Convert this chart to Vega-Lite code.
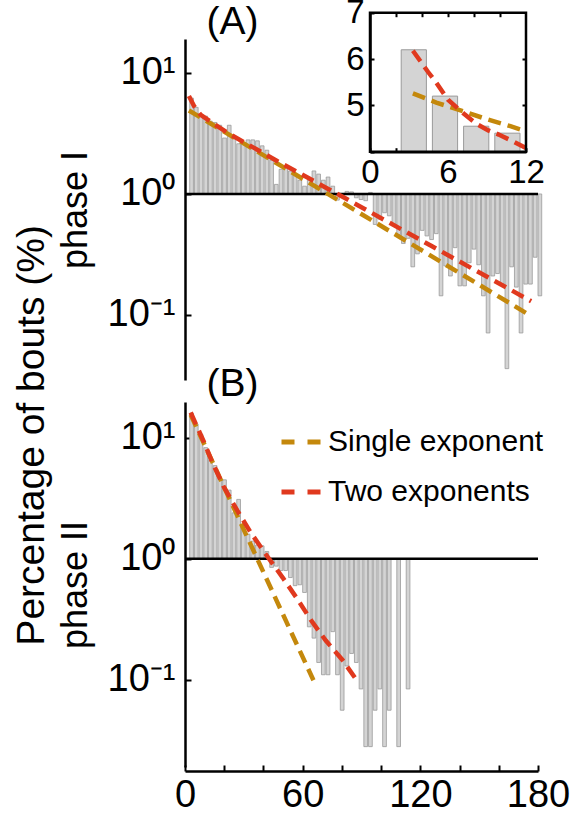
{
  "$schema": "https://vega.github.io/schema/vega-lite/v6.json",
  "background": "white",
  "padding": {"left": 13, "top": -4, "right": 0, "bottom": 0},
  "bounds": "flush",
  "spacing": 22,
  "title": {"text": "Percentage of bouts (%)", "orient": "left", "anchor": "middle", "fontSize": 39, "fontWeight": "normal", "font": "Liberation Sans", "color": "black", "offset": 5, "dx": -30},
  "datasets": {
    "A_bars": [
      {"t0":2.4,"t1":4.8,"p":6.2},{"t0":4.8,"t1":7.2,"p":5.2},{"t0":7.2,"t1":9.6,"p":4.55},{"t0":9.6,"t1":12,"p":4.4},{"t0":12,"t1":14.4,"p":4.0},{"t0":14.4,"t1":16.8,"p":3.9},{"t0":16.8,"t1":19.2,"p":3.7},{"t0":19.2,"t1":21.6,"p":2.9},{"t0":21.6,"t1":24,"p":3.7},{"t0":24,"t1":26.4,"p":3.0},{"t0":26.4,"t1":28.8,"p":2.6},{"t0":28.8,"t1":31.2,"p":2.6},{"t0":31.2,"t1":33.6,"p":2.8},{"t0":33.6,"t1":36,"p":2.8},{"t0":36,"t1":38.4,"p":2.75},{"t0":38.4,"t1":40.8,"p":2.5},{"t0":40.8,"t1":43.2,"p":2.3},{"t0":43.2,"t1":45.6,"p":1.9},{"t0":45.6,"t1":48,"p":1.2},{"t0":48,"t1":50.4,"p":1.6},{"t0":50.4,"t1":52.8,"p":1.65},{"t0":52.8,"t1":55.2,"p":1.55},{"t0":55.2,"t1":57.6,"p":1.45},{"t0":57.6,"t1":60,"p":1.3},{"t0":60,"t1":62.4,"p":1.16},{"t0":62.4,"t1":64.8,"p":1.3},{"t0":64.8,"t1":67.2,"p":1.55},{"t0":67.2,"t1":69.6,"p":1.46},{"t0":69.6,"t1":72,"p":1.3},{"t0":72,"t1":74.4,"p":1.38},{"t0":74.4,"t1":76.8,"p":1.16},{"t0":76.8,"t1":79.2,"p":0.89},{"t0":79.2,"t1":81.6,"p":0.95},{"t0":81.6,"t1":84,"p":1.05},{"t0":84,"t1":86.4,"p":1.04},{"t0":86.4,"t1":88.8,"p":0.93},{"t0":88.8,"t1":91.2,"p":0.9},{"t0":91.2,"t1":93.6,"p":0.88},{"t0":93.6,"t1":96,"p":1.03},{"t0":96,"t1":98.4,"p":0.56},{"t0":98.4,"t1":100.8,"p":0.62},{"t0":100.8,"t1":103.2,"p":0.7},{"t0":103.2,"t1":105.6,"p":0.66},{"t0":105.6,"t1":108,"p":0.55},{"t0":108,"t1":110.4,"p":0.46},{"t0":110.4,"t1":112.8,"p":0.39},{"t0":112.8,"t1":115.2,"p":0.43},{"t0":115.2,"t1":117.6,"p":0.25},{"t0":117.6,"t1":120,"p":0.32},{"t0":120,"t1":122.4,"p":0.5},{"t0":122.4,"t1":124.8,"p":0.45},{"t0":124.8,"t1":127.2,"p":0.42},{"t0":127.2,"t1":129.6,"p":0.47},{"t0":129.6,"t1":132,"p":0.144},{"t0":132,"t1":134.4,"p":0.254},{"t0":134.4,"t1":136.8,"p":0.21},{"t0":136.8,"t1":139.2,"p":0.36},{"t0":139.2,"t1":141.6,"p":0.174},{"t0":141.6,"t1":144,"p":0.174},{"t0":144,"t1":146.4,"p":0.27},{"t0":146.4,"t1":148.8,"p":0.35},{"t0":148.8,"t1":151.2,"p":0.26},{"t0":151.2,"t1":153.6,"p":0.144},{"t0":153.6,"t1":156,"p":0.071},{"t0":156,"t1":158.4,"p":0.21},{"t0":158.4,"t1":160.8,"p":0.22},{"t0":160.8,"t1":163.2,"p":0.18},{"t0":163.2,"t1":165.6,"p":0.036},{"t0":165.6,"t1":168,"p":0.25},{"t0":168,"t1":170.4,"p":0.17},{"t0":170.4,"t1":172.8,"p":0.071},{"t0":172.8,"t1":175.2,"p":0.18},{"t0":175.2,"t1":177.6,"p":0.18},{"t0":177.6,"t1":180,"p":0.3},{"t0":180,"t1":182.4,"p":0.144}
    ],
    "A_fits": [
      {"model":"Single exponent","t":2,"p":4.9},{"model":"Single exponent","t":176.5,"p":0.098},
      {"model":"Two exponents","t":2,"p":6.45},{"model":"Two exponents","t":4.6,"p":5.33},{"model":"Two exponents","t":8,"p":4.5},{"model":"Two exponents","t":13.9,"p":3.88},{"model":"Two exponents","t":22.4,"p":3.15},{"model":"Two exponents","t":46.3,"p":1.9},{"model":"Two exponents","t":81.3,"p":0.93},{"model":"Two exponents","t":125.5,"p":0.373},{"model":"Two exponents","t":176.5,"p":0.13}
    ],
    "inset_bars": [
      {"t0":2.4,"t1":4.8,"p":6.2},{"t0":4.8,"t1":7.2,"p":5.2},{"t0":7.2,"t1":9.6,"p":4.55},{"t0":9.6,"t1":12,"p":4.4}
    ],
    "inset_fits": [
      {"model":"Single exponent","t":3.3,"p":5.26},{"model":"Single exponent","t":5.1,"p":5.06},{"model":"Single exponent","t":7.2,"p":4.87},{"model":"Single exponent","t":9.0,"p":4.7},{"model":"Single exponent","t":10.8,"p":4.55},{"model":"Single exponent","t":11.8,"p":4.46},
      {"model":"Two exponents","t":3.3,"p":6.18},{"model":"Two exponents","t":4.47,"p":5.72},{"model":"Two exponents","t":5.1,"p":5.49},{"model":"Two exponents","t":6.0,"p":5.12},{"model":"Two exponents","t":7.3,"p":4.8},{"model":"Two exponents","t":8.2,"p":4.6},{"model":"Two exponents","t":9.1,"p":4.46},{"model":"Two exponents","t":9.9,"p":4.37},{"model":"Two exponents","t":11.1,"p":4.21},{"model":"Two exponents","t":12.0,"p":4.08}
    ],
    "B_bars": [
      {"t0":2.4,"t1":4.8,"p":16},{"t0":4.8,"t1":7.2,"p":13},{"t0":7.2,"t1":9.6,"p":10.7},{"t0":9.6,"t1":12,"p":8.3},{"t0":12,"t1":14.4,"p":6.6},{"t0":14.4,"t1":16.8,"p":5.9},{"t0":16.8,"t1":19.2,"p":4.6},{"t0":19.2,"t1":21.6,"p":4.5},{"t0":21.6,"t1":24,"p":3.7},{"t0":24,"t1":26.4,"p":2.4},{"t0":26.4,"t1":28.8,"p":3.1},{"t0":28.8,"t1":31.2,"p":1.75},{"t0":31.2,"t1":33.6,"p":1.6},{"t0":33.6,"t1":36,"p":1.4},{"t0":36,"t1":38.4,"p":1.3},{"t0":38.4,"t1":40.8,"p":1.28},{"t0":40.8,"t1":43.2,"p":1.15},{"t0":43.2,"t1":45.6,"p":0.85},{"t0":45.6,"t1":48,"p":0.87},{"t0":48,"t1":50.4,"p":0.8},{"t0":50.4,"t1":52.8,"p":0.8},{"t0":52.8,"t1":55.2,"p":0.7},{"t0":55.2,"t1":57.6,"p":0.6},{"t0":57.6,"t1":60,"p":0.61},{"t0":60,"t1":62.4,"p":0.527},{"t0":62.4,"t1":64.8,"p":0.274},{"t0":64.8,"t1":67.2,"p":0.221},{"t0":67.2,"t1":69.6,"p":0.139},{"t0":69.6,"t1":72,"p":0.11},{"t0":72,"t1":74.4,"p":0.11},{"t0":74.4,"t1":76.8,"p":0.25},{"t0":76.8,"t1":79.2,"p":0.11},{"t0":79.2,"t1":81.6,"p":0.056},{"t0":81.6,"t1":84,"p":0.13},{"t0":84,"t1":86.4,"p":0.165},{"t0":86.4,"t1":88.8,"p":0.139},{"t0":88.8,"t1":91.2,"p":0.084},{"t0":91.2,"t1":93.6,"p":0.028},{"t0":93.6,"t1":96,"p":0.028},{"t0":96,"t1":98.4,"p":0.056},{"t0":98.4,"t1":100.8,"p":0.084},{"t0":100.8,"t1":103.2,"p":0.028},{"t0":103.2,"t1":105.6,"p":0.056},{"t0":108,"t1":110.4,"p":0.028},{"t0":112.8,"t1":115.2,"p":0.084}
    ],
    "B_fits": [
      {"model":"Single exponent","t":2.9,"p":15.5},{"model":"Single exponent","t":65.5,"p":0.099},
      {"model":"Two exponents","t":2.9,"p":16.2},{"model":"Two exponents","t":9.7,"p":9.2},{"model":"Two exponents","t":13.9,"p":6.3},{"model":"Two exponents","t":19.9,"p":3.9},{"model":"Two exponents","t":26.7,"p":2.5},{"model":"Two exponents","t":33.5,"p":1.65},{"model":"Two exponents","t":41,"p":1.1},{"model":"Two exponents","t":49.8,"p":0.7},{"model":"Two exponents","t":57.5,"p":0.46},{"model":"Two exponents","t":64.3,"p":0.31},{"model":"Two exponents","t":71.9,"p":0.21},{"model":"Two exponents","t":80.4,"p":0.145},{"model":"Two exponents","t":87.2,"p":0.101}
    ]
  },
  "vconcat": [
    {
      "width": 353,
      "height": 341,
      "layer": [
        {
          "layer": [
            {
              "data": {"name": "A_bars"},
              "mark": {"type": "bar", "fill": "#d4d4d4", "stroke": "#9a9a9a", "strokeWidth": 0.8, "x2Offset": -1},
              "encoding": {
                "x": {"field": "t0", "type": "quantitative", "scale": {"domain": [0, 180], "nice": false, "zero": false}, "axis": null},
                "x2": {"field": "t1"},
                "y": {"field": "p", "type": "quantitative", "scale": {"type": "log", "domain": [0.029, 19.1], "nice": false},
                  "axis": {"title": "phase I", "titleFontSize": 36, "titlePadding": 13, "values": [0.1, 1, 10], "labelExpr": "datum.value == 10 ? '10¹' : datum.value == 1 ? '10⁰' : '10⁻¹'", "labelFontSize": 38, "tickSize": -6, "labelPadding": 16, "labelOverlap": false, "tickCount": 10}},
                "y2": {"datum": 1}
              }
            },
            {
              "data": {"values": [{}]},
              "mark": {"type": "rule", "color": "black", "strokeWidth": 2.5},
              "encoding": {"y": {"datum": 1, "type": "quantitative", "scale": {"type": "log", "domain": [0.029, 19.1], "nice": false}}}
            },
            {
              "data": {"name": "A_fits"},
              "mark": {"type": "line", "strokeDash": [13, 7], "strokeWidth": 4.5, "strokeCap": "butt"},
              "encoding": {
                "x": {"field": "t", "type": "quantitative", "scale": {"domain": [0, 180], "nice": false, "zero": false}, "axis": null},
                "y": {"field": "p", "type": "quantitative", "scale": {"type": "log", "domain": [0.029, 19.1], "nice": false}},
                "color": {"field": "model", "type": "nominal", "scale": {"domain": ["Single exponent", "Two exponents"], "range": ["#c4880c", "#e0391e"]}, "legend": null}
              }
            },
            {
              "data": {"values": [{"label": "(A)", "t": 11.0, "p": 26.4}]},
              "mark": {"type": "text", "align": "left", "baseline": "middle", "fontSize": 39},
              "encoding": {
                "x": {"field": "t", "type": "quantitative", "scale": {"domain": [0, 180], "nice": false, "zero": false}, "axis": null},
                "y": {"field": "p", "type": "quantitative", "scale": {"type": "log", "domain": [0.029, 19.1], "nice": false}},
                "text": {"field": "label"}
              }
            }
          ]
        },
        {
          "layer": [
            {
              "data": {"name": "inset_bars"},
              "mark": {"type": "bar", "fill": "#d4d4d4", "stroke": "#9a9a9a", "strokeWidth": 1, "x2Offset": -6},
              "encoding": {
                "x": {"field": "t0", "type": "quantitative", "scale": {"domain": [0, 12], "range": [185, 341], "nice": false, "zero": false},
                  "axis": {"orient": "bottom", "offset": -228.3, "title": null, "values": [0, 2, 4, 6, 8, 10, 12], "format": "d", "labelExpr": "datum.value % 6 == 0 ? datum.label : ''", "labelFontSize": 33, "tickSize": -4, "labelPadding": 9, "labelOverlap": false, "labelFlush": false, "tickCount": 20}},
                "x2": {"field": "t1"},
                "y": {"field": "p", "type": "quantitative", "scale": {"domain": [4, 7], "range": [112.7, -26.3], "nice": false, "zero": false},
                  "axis": {"orient": "left", "offset": -185, "title": null, "values": [4, 5, 6, 7], "format": "d", "labelExpr": "datum.value == 4 ? '' : datum.label", "labelFontSize": 33, "tickSize": -4, "labelPadding": 10, "labelOverlap": false, "labelFlush": false, "tickCount": 20}},
                "y2": {"datum": 4}
              }
            },
            {
              "data": {"name": "inset_fits"},
              "mark": {"type": "line", "strokeDash": [13, 7], "strokeWidth": 4.5, "strokeCap": "butt"},
              "encoding": {
                "x": {"field": "t", "type": "quantitative", "scale": {"domain": [0, 12], "range": [185, 341], "nice": false, "zero": false}},
                "y": {"field": "p", "type": "quantitative", "scale": {"domain": [4, 7], "range": [112.7, -26.3], "nice": false, "zero": false}},
                "color": {"field": "model", "type": "nominal", "scale": {"domain": ["Single exponent", "Two exponents"], "range": ["#c4880c", "#e0391e"]}, "legend": null}
              }
            },
            {
              "data": {"values": [{}]},
              "mark": {"type": "rect", "fill": null, "stroke": "black", "strokeWidth": 2.5},
              "encoding": {
                "x": {"datum": 0, "type": "quantitative", "scale": {"domain": [0, 12], "range": [185, 341], "nice": false, "zero": false}},
                "x2": {"datum": 12},
                "y": {"datum": 4, "type": "quantitative", "scale": {"domain": [4, 7], "range": [112.7, -26.3], "nice": false, "zero": false}},
                "y2": {"datum": 7}
              }
            }
          ]
        },
        {
          "data": {"values": [{}]},
          "mark": {"type": "rule", "opacity": 0},
          "encoding": {
            "x": {"datum": 0, "type": "quantitative", "scale": {"domain": [0, 12], "range": [185, 341], "nice": false, "zero": false},
              "axis": {"orient": "top", "offset": 26.3, "title": null, "values": [2, 4, 6, 8, 10], "labels": false, "domain": false, "tickSize": -4, "tickCount": 20}},
            "y": {"datum": 4, "type": "quantitative", "scale": {"domain": [4, 7], "range": [112.7, -26.3], "nice": false, "zero": false},
              "axis": {"orient": "right", "offset": -12, "title": null, "values": [5, 6], "labels": false, "domain": false, "tickSize": -4, "tickCount": 20}}
          }
        }
      ],
      "resolve": {"scale": {"x": "independent", "y": "independent"}, "axis": {"x": "independent", "y": "independent"}}
    },
    {
      "width": 353,
      "height": 365,
      "layer": [
        {
          "data": {"name": "B_bars"},
          "mark": {"type": "bar", "fill": "#d4d4d4", "stroke": "#9a9a9a", "strokeWidth": 0.8, "x2Offset": -1},
          "encoding": {
            "x": {"field": "t0", "type": "quantitative", "scale": {"domain": [0, 180], "nice": false, "zero": false},
              "axis": {"orient": "bottom", "offset": 4, "title": null, "values": [0, 20, 40, 60, 80, 100, 120, 140, 160, 180], "format": "d", "labelExpr": "datum.value % 60 == 0 ? datum.label : ''", "labelFontSize": 38, "tickSize": -6, "labelPadding": 11, "labelOverlap": false, "labelFlush": false, "tickCount": 20}},
            "x2": {"field": "t1"},
            "y": {"field": "p", "type": "quantitative", "scale": {"type": "log", "domain": [0.019, 19.8], "nice": false},
              "axis": {"title": "phase II", "titleFontSize": 36, "titlePadding": 13, "values": [0.1, 1, 10], "labelExpr": "datum.value == 10 ? '10¹' : datum.value == 1 ? '10⁰' : '10⁻¹'", "labelFontSize": 38, "tickSize": -6, "labelPadding": 16, "labelOverlap": false, "tickCount": 10}},
            "y2": {"datum": 1}
          }
        },
        {
          "data": {"values": [{}]},
          "mark": {"type": "rule", "color": "black", "strokeWidth": 2.5},
          "encoding": {"y": {"datum": 1, "type": "quantitative", "scale": {"type": "log", "domain": [0.019, 19.8], "nice": false}}}
        },
        {
          "data": {"name": "B_fits"},
          "mark": {"type": "line", "strokeDash": [13, 7], "strokeWidth": 4.5, "strokeCap": "butt"},
          "encoding": {
            "x": {"field": "t", "type": "quantitative", "scale": {"domain": [0, 180], "nice": false, "zero": false}},
            "y": {"field": "p", "type": "quantitative", "scale": {"type": "log", "domain": [0.019, 19.8], "nice": false}},
            "color": {"field": "model", "type": "nominal", "scale": {"domain": ["Single exponent", "Two exponents"], "range": ["#c4880c", "#e0391e"]},
              "legend": {"orient": "none", "legendX": 94, "legendY": 18, "title": null, "symbolType": "stroke", "symbolDash": [13, 13], "symbolStrokeWidth": 5, "symbolSize": 1521, "labelFontSize": 30, "labelFont": "Liberation Sans", "labelColor": "black", "rowPadding": 13, "labelOffset": 5, "labelLimit": 400}}
          }
        },
        {
          "data": {"values": [{"label": "(B)", "t": 11.0, "p": 27.9}]},
          "mark": {"type": "text", "align": "left", "baseline": "middle", "fontSize": 39},
          "encoding": {
            "x": {"field": "t", "type": "quantitative", "scale": {"domain": [0, 180], "nice": false, "zero": false}},
            "y": {"field": "p", "type": "quantitative", "scale": {"type": "log", "domain": [0.019, 19.8], "nice": false}},
            "text": {"field": "label"}
          }
        }
      ]
    }
  ],
  "resolve": {"scale": {"color": "independent"}, "legend": {"color": "independent"}},
  "config": {
    "font": "Liberation Sans",
    "view": {"stroke": null},
    "axis": {"grid": false, "domainColor": "black", "domainWidth": 2.5, "tickColor": "black", "tickWidth": 2, "labelColor": "black", "labelFont": "Liberation Sans", "titleFont": "Liberation Sans", "titleFontWeight": "normal", "titleColor": "black", "zindex": 1, "labelOverlap": false},
    "text": {"font": "Liberation Sans", "color": "black"}
  }
}
